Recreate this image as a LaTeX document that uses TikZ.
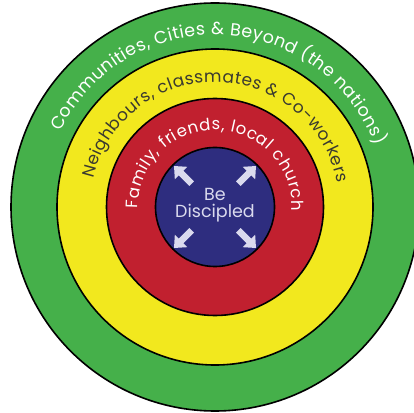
\documentclass[tikz,border=0pt]{standalone}
\usepackage{fontspec}
\setmainfont{Poppins}
\usetikzlibrary{decorations.text, arrows.meta, calc}

\definecolor{ringgreen}{HTML}{45B04A}
\definecolor{ringyellow}{HTML}{F2E81E}
\definecolor{ringred}{HTML}{C1202F}
\definecolor{ringblue}{HTML}{2E2D7F}
\definecolor{arrowgrey}{HTML}{DADAEE}
\definecolor{darktext}{HTML}{3A3A30}

\tikzset{
  ring/.style={draw=black, line width=1.6pt},
  outarrow/.style={draw=arrowgrey, line width=6.5pt, -{Triangle[length=10pt,width=17pt]}},
}

\begin{document}
\begin{tikzpicture}[x=1pt,y=1pt]

\useasboundingbox (0,0) rectangle (414,412);
\clip (0,0) rectangle (414,412);
\coordinate (c) at (215,205);

% the four rings, outside in
\filldraw[ring, fill=ringgreen] (c) circle (204pt);
\filldraw[ring, fill=ringyellow] (c) circle (158pt);
\filldraw[ring, fill=ringred] (c) circle (108.5pt);
\filldraw[ring, fill=ringblue] (c) circle (59.5pt);

% labels bent round the rings
\path[decorate, decoration={text along path, text align={fit to path}, text color=white,
  text={|\fontsize{17.5}{17.5}\selectfont|Communities, Cities {\&} Beyond (the nations)}}]
  ([shift={(154:172pt)}]c) arc[start angle=154, end angle=21, radius=172pt];
\path[decorate, decoration={text along path, text align={fit to path}, text color=darktext,
  text={|\fontsize{17}{17}\selectfont|Neighbours, classmates {\&} Co-workers}}]
  ([shift={(167:125pt)}]c) arc[start angle=167, end angle=11, radius=125pt];
\path[decorate, decoration={text along path, text align={fit to path}, text color=white,
  text={|\fontsize{16.5}{16.5}\selectfont|Family, friends, local church}}]
  ([shift={(181:77pt)}]c) arc[start angle=181, end angle=-3, radius=77pt];

% centre
\node[text=arrowgrey, font=\fontsize{17.5}{17}\selectfont, align=center] (core)
  at ([yshift=2pt]c) {Be\\Discipled};

\foreach \a in {45,135,225,315}{
  \coordinate (s\a) at ($(c)+(\a:33pt)$);
  \coordinate (t\a) at ($(c)+(\a:58pt)$);
  \draw[outarrow] (s\a) -- (t\a);
}

\end{tikzpicture}
\end{document}
